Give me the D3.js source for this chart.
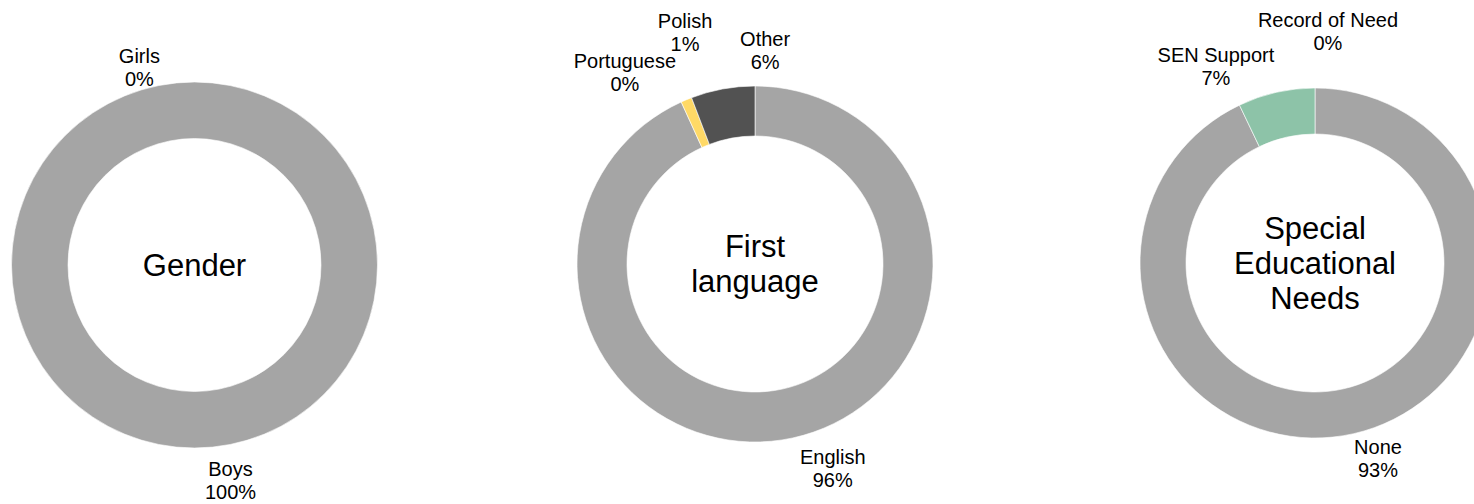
<!DOCTYPE html>
<html>
<head>
<meta charset="utf-8">
<script src="https://cdn.jsdelivr.net/npm/d3@7/dist/d3.min.js"></script>
<style>
  html, body { margin: 0; padding: 0; background: #fff; }
  svg { display: block; }
  text { font-family: "Liberation Sans", Arial, Helvetica, sans-serif; fill: #000; }
</style>
</head>
<body>
<svg id="chart" width="1474" height="504"></svg>
<script>
// ---------- DATA ----------
const genderCategories   = ["Boys", "Girls"];
const genderValues       = [100, 0];
const genderLabels       = ["100%", "0%"];

const languageCategories = ["English", "Portuguese", "Polish", "Other"];
const languageValues     = [93.2, 0, 1.0, 5.8];
const languageLabels     = ["96%", "0%", "1%", "6%"];

const senCategories      = ["None", "SEN Support", "Record of Need"];
const senValues          = [92.9, 7.1, 0];
const senLabels          = ["93%", "7%", "0%"];

const chartTitles = [["Gender"], ["First", "language"], ["Special", "Educational", "Needs"]];

// ---------- LAYOUT ----------
const palettes = [
  ["#a5a5a5", "#a5a5a5"],
  ["#a5a5a5", "#a5a5a5", "#ffd966", "#525252"],
  ["#a5a5a5", "#8dc3a8", "#8dc3a8"]
];
const geometry = [
  { cx: 194.5, cy: 265, outer: 183, inner: 126.5 },
  { cx: 755,   cy: 264, outer: 178, inner: 128 },
  { cx: 1315,  cy: 263, outer: 175, inner: 129 }
];
// label anchor placement (polar, degrees clockwise from top, radius) per slice
const labelPlacement = [
  [{ a: 170.5, r: 218 }, { a: -15.6, r: 205 }],
  [{ a: 159.2, r: 219 }, { a: -34.2, r: 231.5 }, { a: -16.8, r: 242 }, { a: 2.7, r: 214 }],
  [{ a: 162.1, r: 205 }, { a: -26.7, r: 220.5 }, { a: 3.2, r: 232 }]
];

const charts = [
  { cats: genderCategories,   vals: genderValues,   labels: genderLabels },
  { cats: languageCategories, vals: languageValues, labels: languageLabels },
  { cats: senCategories,      vals: senValues,      labels: senLabels }
];

const svg = d3.select("#chart");
const pie = d3.pie().sort(null).value(d => d.v);

charts.forEach((c, ci) => {
  const g = geometry[ci];
  const data = c.cats.map((name, i) => ({ name, v: c.vals[i], label: c.labels[i], i }));
  const arcs = pie(data);
  const arc = d3.arc().innerRadius(g.inner).outerRadius(g.outer);
  const color = d3.scaleOrdinal().domain(c.cats).range(palettes[ci]);

  const grp = svg.append("g").attr("transform", `translate(${g.cx},${g.cy})`);

  grp.selectAll("path.slice")
    .data(arcs.filter(d => d.endAngle - d.startAngle > 0))
    .join("path")
    .attr("class", "slice")
    .attr("d", arc)
    .attr("fill", d => color(d.data.name))
    .attr("stroke", "#ffffff")
    .attr("stroke-width", 0.6);

  // centre title
  const lines = chartTitles[ci];
  const lh = 35;
  const title = grp.append("text")
    .attr("text-anchor", "middle")
    .attr("font-size", 31);
  lines.forEach((ln, k) => {
    title.append("tspan")
      .attr("x", 0)
      .attr("y", (k - (lines.length - 1) / 2) * lh)
      .attr("dy", "0.35em")
      .text(ln);
  });

  // slice labels
  arcs.forEach((d, i) => {
    const p = labelPlacement[ci][i];
    const rad = p.a * Math.PI / 180;
    const lab = d3.arc().innerRadius(p.r).outerRadius(p.r).startAngle(rad).endAngle(rad);
    const [x, y] = lab.centroid();
    const t = grp.append("text")
      .attr("text-anchor", "middle")
      .attr("font-size", 20);
    t.append("tspan").attr("x", x).attr("y", y - 11.5).attr("dy", "0.35em").text(d.data.name);
    t.append("tspan").attr("x", x).attr("y", y + 11.5).attr("dy", "0.35em").text(d.data.label);
  });
});
</script>
</body>
</html>
